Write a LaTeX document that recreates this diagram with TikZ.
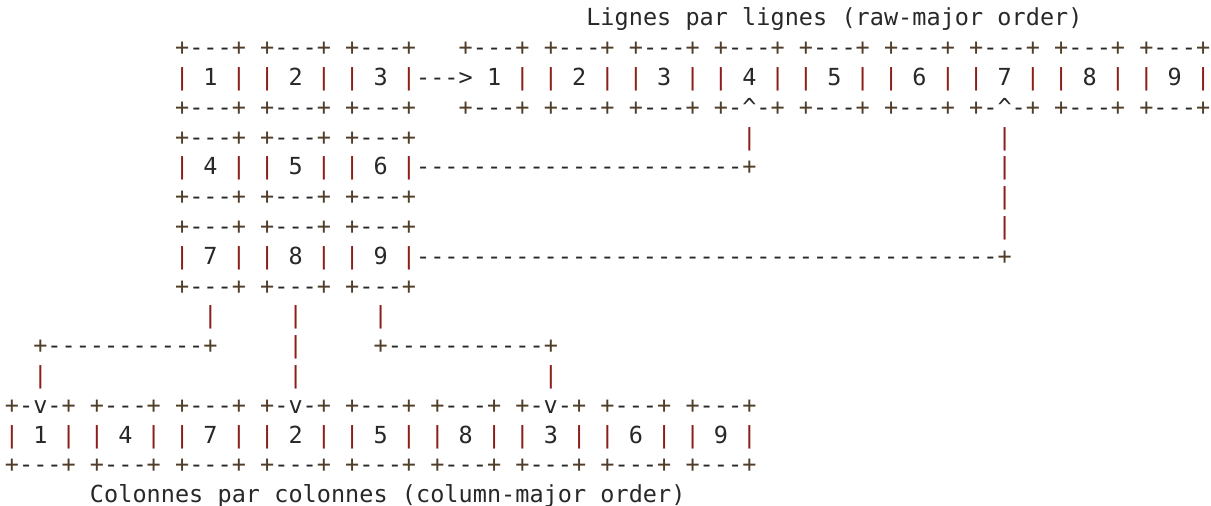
\documentclass[tikz,border=0pt]{standalone}
\usepackage{fontspec}
\newfontfamily\asciifont{DejaVu Sans Mono}
\definecolor{pipec}{RGB}{140,30,25}
\definecolor{plusc}{RGB}{80,62,42}
\definecolor{textc}{RGB}{40,40,40}
\newlength\cw
\setlength\cw{14.18pt}
\newcommand\fmtchar[1]{\ifx#1|\textcolor{pipec}{|}\else\ifx#1+\textcolor{plusc}{+}\else\ifx#1.\else\ifx#1!\textasciicircum\else#1\fi\fi\fi\fi}
\def\ascloop#1{\ifx#1\relax\else\hbox to\cw{\hss\fmtchar#1\hss}\expandafter\ascloop\fi}
\newcommand\asc[4]{\node[ascii] (#1) at ({4.9+#3*14.18},{25.9+#2*29.8}) {\ascloop#4\relax};}
\tikzset{ascii/.style={anchor=base west, inner sep=0pt, outer sep=0pt, text=textc,
  font={\asciifont\fontsize{23.5pt}{29.8pt}\selectfont}}}
\begin{document}
\begin{tikzpicture}[x=1pt,y=-1pt]
\useasboundingbox (0,0) rectangle (1211,506);
\asc{t0}{0}{41}{Lignes.par.lignes.(raw-major.order)}
\asc{r1}{1}{12}{+---+.+---+.+---+...+---+.+---+.+---+.+---+.+---+.+---+.+---+.+---+.+---+}
\asc{r2}{2}{12}{|.1.|.|.2.|.|.3.|--->.1.|.|.2.|.|.3.|.|.4.|.|.5.|.|.6.|.|.7.|.|.8.|.|.9.|}
\asc{r3}{3}{12}{+---+.+---+.+---+...+---+.+---+.+---+.+-!-+.+---+.+---+.+-!-+.+---+.+---+}
\asc{r4a}{4}{12}{+---+.+---+.+---+}
\asc{r4b}{4}{52}{|}
\asc{r4c}{4}{70}{|}
\asc{r5a}{5}{12}{|.4.|.|.5.|.|.6.|-----------------------+}
\asc{r5c}{5}{70}{|}
\asc{r6a}{6}{12}{+---+.+---+.+---+}
\asc{r6c}{6}{70}{|}
\asc{r7a}{7}{12}{+---+.+---+.+---+}
\asc{r7c}{7}{70}{|}
\asc{r8a}{8}{12}{|.7.|.|.8.|.|.9.|-----------------------------------------+}
\asc{r9a}{9}{12}{+---+.+---+.+---+}
\asc{r10a}{10}{14}{|}
\asc{r10b}{10}{20}{|}
\asc{r10c}{10}{26}{|}
\asc{r11a}{11}{2}{+-----------+}
\asc{r11b}{11}{20}{|}
\asc{r11c}{11}{26}{+-----------+}
\asc{r12a}{12}{2}{|}
\asc{r12b}{12}{20}{|}
\asc{r12c}{12}{38}{|}
\asc{r13}{13}{0}{+-v-+.+---+.+---+.+-v-+.+---+.+---+.+-v-+.+---+.+---+}
\asc{r14}{14}{0}{|.1.|.|.4.|.|.7.|.|.2.|.|.5.|.|.8.|.|.3.|.|.6.|.|.9.|}
\asc{r15}{15}{0}{+---+.+---+.+---+.+---+.+---+.+---+.+---+.+---+.+---+}
\asc{t16}{16}{6}{Colonnes.par.colonnes.(column-major.order)}
\end{tikzpicture}
\end{document}
